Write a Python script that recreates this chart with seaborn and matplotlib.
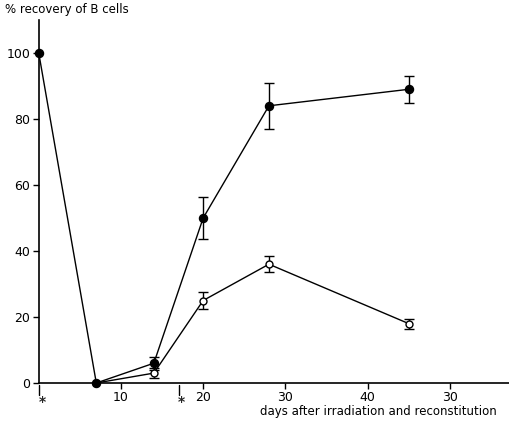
import matplotlib
matplotlib.use("Agg")
import matplotlib.pyplot as plt
import seaborn as sns
import pandas as pd

# Recovery of B cells after irradiation and reconstitution
days_filled = [0, 7, 14, 20, 28, 45]
recovery_filled = [100, 0, 6, 50, 84, 89]
err_filled = [0, 0, 2, 6.5, 7, 4]

days_open = [7, 14, 20, 28, 45]
recovery_open = [0, 3, 25, 36, 18]
err_open = [0, 1.5, 2.5, 2.5, 1.5]

x_ticks = [10, 20, 30, 40, 50]
x_tick_labels = ["10", "20", "30", "40", "30"]
y_ticks = [0, 20, 40, 60, 80, 100]
treatment_days = [0, 17]

sns.set_theme(style="ticks")
plt.rcParams["font.family"] = ["DejaVu Sans"]

fig = plt.figure(figsize=(5.09, 4.29), dpi=100)
ax = fig.add_axes([38.75 / 509, 46 / 429, 1 - 38.75 / 509, (383 - 20) / 429])

df_f = pd.DataFrame({"day": days_filled, "rec": recovery_filled, "err": err_filled})
df_o = pd.DataFrame({"day": days_open, "rec": recovery_open, "err": err_open})

# error bars only where a spread was measured
for df in (df_f, df_o):
    sub = df[df["err"] > 0]
    ax.errorbar(sub["day"], sub["rec"], yerr=sub["err"], fmt="none",
                ecolor="black", elinewidth=1, capsize=3.6, capthick=1, zorder=2)

sns.lineplot(data=df_o, x="day", y="rec", ax=ax, color="black", lw=1,
             marker="o", markersize=5, markerfacecolor="white",
             markeredgecolor="black", markeredgewidth=1, zorder=3)
sns.lineplot(data=df_f, x="day", y="rec", ax=ax, color="black", lw=1,
             marker="o", markersize=5.8, markerfacecolor="black",
             markeredgecolor="black", markeredgewidth=1, zorder=4)

for artist in ax.lines + ax.collections:
    artist.set_clip_on(False)

ax.set_xlim(0, 57.2)
ax.set_ylim(0, 110)
ax.set_xticks(x_ticks)
ax.set_xticklabels(x_tick_labels)
ax.set_yticks(y_ticks)
ax.tick_params(axis="both", direction="out", length=4, width=1,
               colors="black", labelsize=9, pad=2)
for s in ["top", "right"]:
    ax.spines[s].set_visible(False)
for s in ["left", "bottom"]:
    ax.spines[s].set_linewidth(1.2)
    ax.spines[s].set_color("black")
ax.set_xlabel("")
ax.set_ylabel("")

# irradiation / reconstitution markers below the axis
for d in treatment_days:
    ax.plot([d, d], [-0.5, -3.5], color="black", lw=1, clip_on=False)
    ax.text(d + 0.4, -5.8, "*", ha="center", va="center", fontsize=10,
            fontweight="bold", clip_on=False)

fig.text(5 / 509, 1 - 9 / 429, "% recovery of B cells", ha="left",
         va="center", fontsize=8.5, color="black")
fig.text(497 / 509, 1 - 411 / 429, "days after irradiation and reconstitution",
         ha="right", va="center", fontsize=8.5, color="black")

fig.savefig("out.png", dpi=100)
